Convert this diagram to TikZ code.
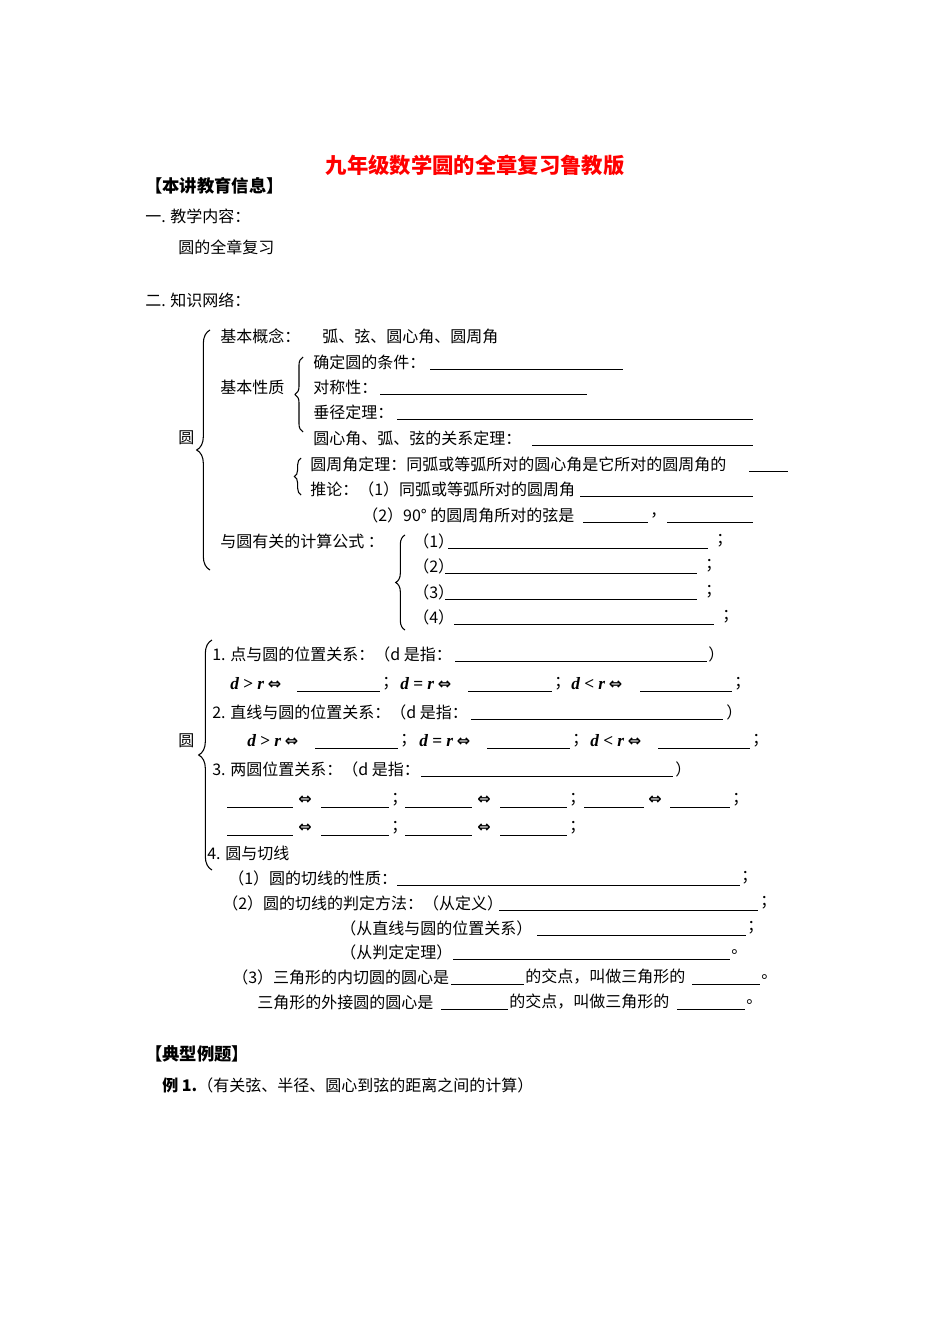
\documentclass[tikz,border=0pt]{standalone}
\usepackage{fontspec}
\setmainfont{Liberation Serif}
\newfontfamily\cjk{Noto Sans CJK SC}
\newfontfamily\dv{DejaVu Sans}
\usetikzlibrary{decorations.pathreplacing}
\newcommand{\Tx}[3]{\node[anchor=west,inner sep=0pt,font=\fontsize{12}{14}\cjk] at (#1,#2) {#3};}
\newcommand{\Bl}[3]{\draw[line width=0.5pt] (#1,#3+7) -- (#2,#3+7);}
\newcommand{\Iff}{{\dv\bfseries ⇔}}
\newcommand{\Dr}[1]{{\fontsize{13}{15}\fontspec{Liberation Serif}\bfseries\itshape d \upshape #1 \itshape r}}
\tikzset{brc/.style={decorate,decoration={brace,amplitude=#1},line width=0.8pt}}
\begin{document}
\begin{tikzpicture}[x=0.75pt,y=-0.75pt]
\useasboundingbox (0,0) rectangle (950,1344);
\node[font=\fontsize{16}{18}\cjk\bfseries,text=red,inner sep=0pt] at (475,165) {九年级数学圆的全章复习鲁教版};
\node[anchor=west,inner sep=0pt,font=\fontsize{13}{15}\cjk\bfseries] at (145,186) {【本讲教育信息】};
\Tx{145}{216}{一. 教学内容：}
\Tx{178}{247}{圆的全章复习}
\Tx{145}{300}{二. 知识网络：}
% section 1
\draw[brc=10pt] (210,570) -- (210,330);
\Tx{178}{438}{圆}
\Tx{220}{336}{基本概念：}
\Tx{322}{336}{弧、弦、圆心角、圆周角}
\Tx{220}{387}{基本性质}
\draw[brc=6pt] (303,432) -- (303,357);
\Tx{313}{362}{确定圆的条件：}\Bl{430}{623}{362}
\Tx{313}{387}{对称性：}\Bl{380}{587}{387}
\Tx{313}{412}{垂径定理：}\Bl{397}{753}{412}
\Tx{313}{438}{圆心角、弧、弦的关系定理：}\Bl{532}{753}{438}
\draw[brc=5pt] (301,495) -- (301,458);
\Tx{310}{464}{圆周角定理：同弧或等弧所对的圆心角是它所对的圆周角的}\Bl{749}{788}{464}
\Tx{310}{489}{推论：（1）同弧或等弧所对的圆周角}\Bl{580}{753}{489}
\Tx{362}{515}{（2）90° 的圆周角所对的弦是}\Bl{583}{648}{515}\Tx{650}{515}{，}\Bl{667}{753}{515}
\Tx{220}{541}{与圆有关的计算公式 ：}
\draw[brc=7pt] (405,630) -- (405,535);
\Tx{413}{541}{（1）}\Bl{448}{708}{541}\Tx{716}{541}{；}
\Tx{413}{566}{（2）}\Bl{445}{697}{566}\Tx{705}{566}{；}
\Tx{413}{592}{（3）}\Bl{445}{697}{592}\Tx{705}{592}{；}
\Tx{413}{617}{（4）}\Bl{454}{714}{617}\Tx{722}{617}{；}
% section 2
\draw[brc=10pt] (212,870) -- (212,640);
\Tx{178}{741}{圆}
\Tx{212}{654}{1. 点与圆的位置关系：（d 是指：}\Bl{455}{707}{654}\Tx{708}{654}{）}
\Tx{230}{684}{\Dr{>} \Iff}\Bl{297}{380}{684}\Tx{382}{684}{；}
\Tx{400}{684}{\Dr{=} \Iff}\Bl{468}{552}{684}\Tx{554}{684}{；}
\Tx{571}{684}{\Dr{<} \Iff}\Bl{640}{732}{684}\Tx{734}{684}{；}
\Tx{212}{712}{2. 直线与圆的位置关系：（d 是指：}\Bl{471}{723}{712}\Tx{726}{712}{）}
\Tx{247}{741}{\Dr{>} \Iff}\Bl{315}{398}{741}\Tx{400}{741}{；}
\Tx{419}{741}{\Dr{=} \Iff}\Bl{487}{570}{741}\Tx{572}{741}{；}
\Tx{590}{741}{\Dr{<} \Iff}\Bl{658}{750}{741}\Tx{752}{741}{；}
\Tx{212}{769}{3. 两圆位置关系：（d 是指：}\Bl{421}{673}{769}\Tx{675}{769}{）}
\Bl{227}{293}{800}\Tx{298}{800}{\Iff}\Bl{321}{389}{800}\Tx{391}{800}{；}
\Bl{405}{472}{800}\Tx{477}{800}{\Iff}\Bl{500}{567}{800}\Tx{569}{800}{；}
\Bl{584}{644}{800}\Tx{648}{800}{\Iff}\Bl{670}{730}{800}\Tx{732}{800}{；}
\Bl{227}{293}{828}\Tx{298}{828}{\Iff}\Bl{321}{389}{828}\Tx{391}{828}{；}
\Bl{405}{472}{828}\Tx{477}{828}{\Iff}\Bl{500}{567}{828}\Tx{569}{828}{；}
\Tx{207}{853}{4. 圆与切线}
\Tx{228}{878}{（1）圆的切线的性质：}\Bl{397}{740}{878}\Tx{741}{878}{；}
\Tx{222}{903}{（2）圆的切线的判定方法：（从定义）}\Bl{499}{758}{903}\Tx{760}{903}{；}
\Tx{340}{928}{（从直线与圆的位置关系）}\Bl{537}{746}{928}\Tx{747}{928}{；}
\Tx{340}{952}{（从判定定理）}\Bl{453}{730}{952}\Tx{731}{952}{。}
\Tx{232}{977}{（3）三角形的内切圆的圆心是}\Bl{451}{524}{977}\Tx{525}{977}{的交点，叫做三角形的}\Bl{692}{760}{977}\Tx{761}{977}{。}
\Tx{257}{1002}{三角形的外接圆的圆心是}\Bl{441}{508}{1002}\Tx{509}{1002}{的交点，叫做三角形的}\Bl{677}{745}{1002}\Tx{746}{1002}{。}
\node[anchor=west,inner sep=0pt,font=\fontsize{13}{15}\cjk\bfseries] at (145,1054) {【典型例题】};
\node[anchor=west,inner sep=0pt,font=\fontsize{12}{14}\cjk\bfseries] at (162,1085) {例 1.};
\Tx{197}{1085}{（有关弦、半径、圆心到弦的距离之间的计算）}
\end{tikzpicture}
\end{document}
